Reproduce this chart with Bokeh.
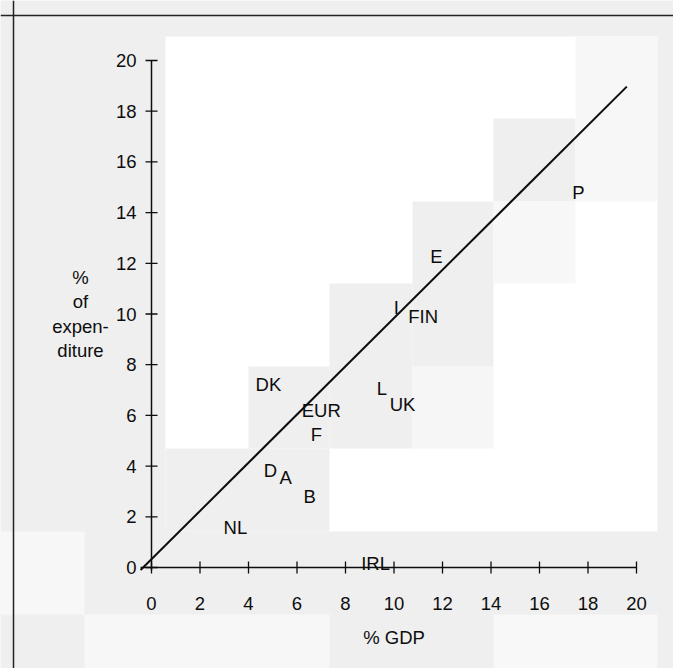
from bokeh.plotting import figure
from bokeh.models import Range1d, Span, BoxAnnotation
from bokeh.embed import file_html
from bokeh.resources import INLINE
from bokeh.core.properties import value

# ---- data ----
countries = ["P", "E", "I", "FIN", "DK", "L", "UK", "EUR", "F", "D", "A", "B", "NL", "IRL"]
gdp_pct = [17.6, 11.75, 10.1, 11.2, 4.82, 9.5, 10.35, 7.0, 6.8, 4.9, 5.53, 6.52, 3.46, 9.24]
exp_pct = [14.8, 12.27, 10.26, 9.9, 7.22, 7.06, 6.43, 6.19, 5.25, 3.83, 3.55, 2.8, 1.58, 0.16]

ref_line_x = [-0.45, 19.6]
ref_line_y = [-0.1, 18.97]

x_ticks = [0, 2, 4, 6, 8, 10, 12, 14, 16, 18, 20]
y_ticks = [0, 2, 4, 6, 8, 10, 12, 14, 16, 18, 20]
x_tick_labels = [str(t) for t in x_ticks]
y_tick_labels = [str(t) for t in y_ticks]
x_title = "% GDP"
y_title_lines = ["%", "of", "expen-", "diture"]

# ---- geometry ----
W, H = 673, 668
OFF = 0
PX_X = 24.25   # pixels per unit x
PX_Y = 25.35   # pixels per unit y
X0_PX, Y0_PX = 151 - OFF, 567 - OFF   # figure pixel of (0, 0)
x_start = -X0_PX / PX_X
x_end = x_start + W / PX_X
y_end = Y0_PX / PX_Y
y_start = y_end - H / PX_Y

def px2x(px):  # page pixel -> data x
    return x_start + (px - OFF) / PX_X

def px2y(py):  # page pixel -> data y
    return y_end - (py - OFF) / PX_Y

FONT = "Liberation Sans"
FS = "18.5px"
GRAY = "#efefef"
INK = "#0d0d0d"

p = figure(width=W, height=H, output_backend="svg", toolbar_location=None,
           x_range=Range1d(x_start, x_end), y_range=Range1d(y_start, y_end),
           x_axis_type=None, y_axis_type=None, min_border=0)
p.grid.visible = False
p.outline_line_color = None
p.background_fill_color = GRAY
p.border_fill_color = GRAY

# scanned-page background tones
blocks = [
    (165, 657, 36, 531, "#ffffff"),
    (165, 329, 448, 531, GRAY),
    (248, 329, 366, 448, GRAY),
    (329, 412, 283, 448, GRAY),
    (412, 493, 201, 366, GRAY),
    (412, 493, 366, 448, "#f6f6f6"),
    (493, 575, 118, 201, GRAY),
    (493, 575, 201, 283, "#f7f7f7"),
    (575, 657, 36, 201, "#f7f7f7"),
    (0, 84, 531, 614, "#f7f7f7"),
    (84, 329, 614, 700, "#f7f7f7"),
    (493, 657, 614, 700, "#f8f8f8"),
]
for l, r, t, b, c in blocks:
    p.add_layout(BoxAnnotation(left=px2x(l), right=px2x(r), top=px2y(t), bottom=px2y(b),
                               fill_color=c, fill_alpha=1, line_color=None, level="underlay"))

# page frame lines
p.add_layout(Span(location=px2x(13), dimension="height", line_color="#222222", line_width=1.5))
p.add_layout(Span(location=px2y(15), dimension="width", line_color="#222222", line_width=1.5))

# axes drawn at the origin
tick_dx = 6 / PX_X
tick_dy = 6 / PX_Y
p.segment(x0=[-0.45], y0=[0], x1=[20], y1=[0], line_color=INK, line_width=1.5)
p.segment(x0=[0], y0=[-0.1], x1=[0], y1=[20], line_color=INK, line_width=1.5)
p.segment(x0=x_ticks, y0=[-tick_dy] * len(x_ticks), x1=x_ticks, y1=[tick_dy] * len(x_ticks),
          line_color=INK, line_width=1.3)
p.segment(x0=[-tick_dx] * len(y_ticks), y0=y_ticks, x1=[tick_dx] * len(y_ticks), y1=y_ticks,
          line_color=INK, line_width=1.3)

p.text(x=x_ticks, y=[0] * len(x_ticks), text=x_tick_labels, y_offset=36,
       text_align="center", text_baseline="middle", text_font=value(FONT),
       text_font_size=FS, text_color=INK)
p.text(x=[0] * len(y_ticks), y=y_ticks, text=y_tick_labels, x_offset=-15,
       text_align="right", text_baseline="middle", text_font=value(FONT),
       text_font_size=FS, text_color=INK)

# axis titles
p.text(x=[10], y=[0], text=[x_title], y_offset=70, text_align="center", text_baseline="middle",
       text_font=value(FONT), text_font_size=FS, text_color=INK)
p.text(x=[0] * 4, y=[10.0] * 4, text=y_title_lines, x_offset=-71,
       y_offset=[-36.5, -12.5, 12.5, 36.5],
       text_align="center", text_baseline="middle", text_font=value(FONT),
       text_font_size=FS, text_color=INK)

# reference line
p.line(ref_line_x, ref_line_y, line_color=INK, line_width=2)

# country labels
p.text(x=gdp_pct, y=exp_pct, text=countries, text_align="center", text_baseline="middle",
       text_font=value(FONT), text_font_size=FS, text_color=INK)

open("out.html", "w").write(file_html(p, INLINE))
